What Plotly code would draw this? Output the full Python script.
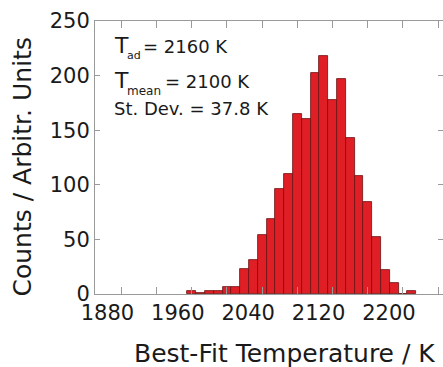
import plotly.graph_objects as go

# Histogram of best-fit temperatures, 10 K bins (bin centres in K)
bin_centers = [1960, 1970, 1980, 1990, 2000, 2010, 2020, 2030, 2040, 2050,
               2060, 2070, 2080, 2090, 2100, 2110, 2120, 2130, 2140, 2150,
               2160, 2170, 2180, 2190, 2200, 2210]
counts = [3, 1, 3, 3, 6, 6, 23, 31, 54, 69,
          96, 110, 165, 160, 202, 218, 178, 197, 143, 108,
          84, 52, 22, 10, 0, 3]

x_tick_vals = [1880, 1920, 1960, 2000, 2040, 2080, 2120, 2160, 2200, 2240]
x_tick_text = ["1880", "", "1960", "", "2040", "", "2120", "", "2200", ""]
y_tick_vals = [0, 50, 100, 150, 200, 250]

# statistics block: (text, font size, x, y) in data coordinates
stats_pieces = [
    ("T", 22, 1869.3, 227.8),
    ("ad", 11, 1884.1, 218.1),
    ("= 2160 K", 18, 1902.3, 226.5),
    ("T", 22, 1869.3, 195.6),
    ("mean", 12, 1884.1, 185.7),
    ("= 2100 K", 18, 1927.3, 194.3),
    ("St. Dev. = 37.8 K", 18, 1869.3, 169.8),
]

FONT = "DejaVu Sans, Arial, sans-serif"
AXIS_GREY = "#9a9a9a"

fig = go.Figure()
fig.add_trace(go.Bar(
    x=bin_centers, y=counts, width=10,
    marker=dict(color="#e01e26", line=dict(color="#6a1212", width=0.8)),
    showlegend=False,
))
# empty trace so the right-hand tick axis is drawn
fig.add_trace(go.Scatter(x=[], y=[], yaxis="y2", showlegend=False))

fig.update_layout(
    width=443, height=367,
    margin=dict(l=95, r=0, t=21, b=73),
    paper_bgcolor="white", plot_bgcolor="white",
    bargap=0,
    font=dict(family=FONT, color="#1a1a1a"),
    xaxis=dict(
        range=[1850, 2245.5], tickmode="array",
        tickvals=x_tick_vals, ticktext=x_tick_text,
        ticks="inside", ticklen=7, tickcolor=AXIS_GREY, tickwidth=1,
        showline=True, linecolor=AXIS_GREY, linewidth=1, mirror="ticks",
        showgrid=False, zeroline=False,
        tickfont=dict(size=21), ticklabelshift=-14,
    ),
    yaxis=dict(
        range=[0, 250], tickmode="array", tickvals=y_tick_vals,
        ticks="inside", ticklen=5, tickcolor=AXIS_GREY, tickwidth=1,
        showline=True, linecolor=AXIS_GREY, linewidth=1,
        showgrid=False, zeroline=False,
        tickfont=dict(size=21),
    ),
    yaxis2=dict(
        range=[0, 250], overlaying="y", side="right", anchor="x",
        tickmode="array", tickvals=y_tick_vals,
        ticks="inside", ticklen=5, tickcolor=AXIS_GREY, tickwidth=1,
        showline=False, showticklabels=False, showgrid=False, zeroline=False,
    ),
)

# axis titles
fig.add_annotation(text="Best-Fit Temperature / K", xref="paper", yref="paper",
                   x=0.544, y=-0.2165, xanchor="center", yanchor="middle",
                   showarrow=False, font=dict(size=25))
fig.add_annotation(text="Counts / Arbitr. Units", xref="paper", yref="paper",
                   x=-0.207, y=0.467, xanchor="center", yanchor="middle",
                   textangle=-90, showarrow=False, font=dict(size=25))

for text, size, xv, yv in stats_pieces:
    fig.add_annotation(text=text, x=xv, y=yv, xref="x", yref="y",
                       xanchor="left", yanchor="middle", showarrow=False,
                       font=dict(size=size))

fig.write_html("out.html")
